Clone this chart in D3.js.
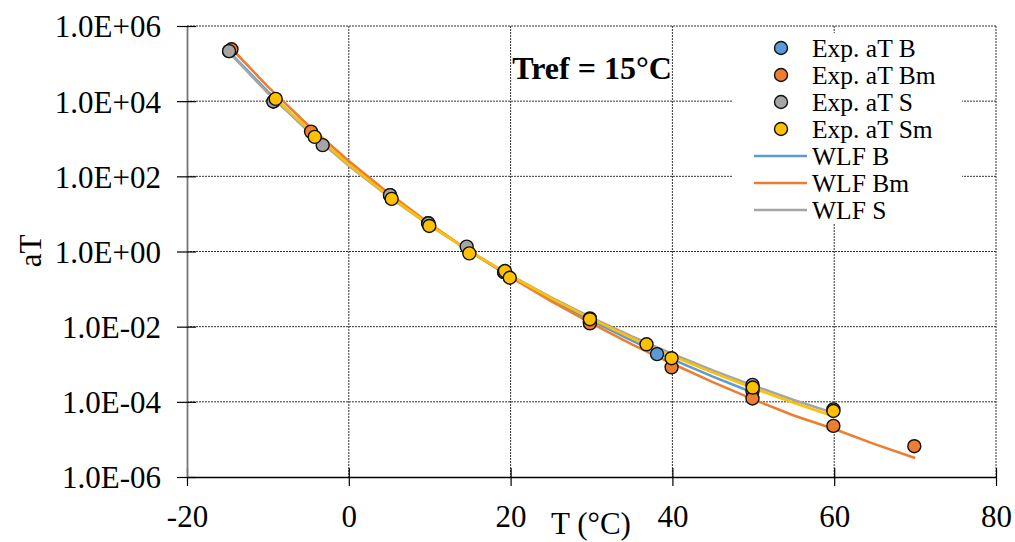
<!DOCTYPE html>
<html><head><meta charset="utf-8">
<script src="https://cdn.jsdelivr.net/npm/d3@7/dist/d3.min.js"></script>
<style>body{margin:0;background:#fff}svg{display:block}text{font-family:"Liberation Serif","Times New Roman",serif;fill:#000}</style>
</head><body><svg id="c" width="1015" height="542"></svg>
<script>
// ---- data ----
const xTicks = [-20, 0, 20, 40, 60, 80];
const xTickLabels = ["-20", "0", "20", "40", "60", "80"];
const yTicks = [1e6, 1e4, 1e2, 1e0, 1e-2, 1e-4, 1e-6];
const yTickLabels = ["1.0E+06","1.0E+04","1.0E+02","1.0E+00","1.0E-02","1.0E-04","1.0E-06"];
const legendNames = ["Exp. aT B","Exp. aT Bm","Exp. aT S","Exp. aT Sm","WLF B","WLF Bm","WLF S"];
const colors = {B:"#5B9BD5", Bm:"#ED7D31", S:"#A5A5A5", Sm:"#FFC000"};

// experimental points
const expB_T  = [-14.8, -9.3, 5.1, 9.8, 19.2, 29.8, 38.1, 49.9];
const expB_aT = [2.14e5, 9.8e3, 31.6, 5.62, 0.282, 0.0141, 1.86e-3, 1.9e-4];
const expBm_T  = [-14.5, -4.67, 29.8, 39.9, 49.9, 59.9, 69.9];
const expBm_aT = [2.4e5, 1.55e3, 0.0123, 8.3e-4, 1.23e-4, 2.29e-5, 6.6e-6];
const expS_T  = [-14.8, -9.33, -3.23, 5.09, 9.83, 14.57, 19.2, 29.8, 49.9, 59.9];
const expS_aT = [2.14e5, 9.8e3, 676, 31.6, 5.62, 1.35, 0.282, 0.0166, 2.82e-4, 6.3e-5];
const expSm_T  = [-9.04, -4.21, 5.3, 9.95, 14.9, 19.3, 19.9, 29.8, 36.8, 39.9, 49.93, 59.9];
const expSm_aT = [1.15e4, 1.12e3, 25.1, 4.79, 0.89, 0.302, 0.2, 0.0158, 3.39e-3, 1.45e-3, 2.4e-4, 5.7e-5];

// WLF curves
const wlfB_T  = [-14.8, -10, -5, 0, 5, 10, 15, 20, 25, 30, 35, 40, 45, 50];
const wlfB_aT = [2.09e5, 1.78e4, 1.73e3, 208, 30.1, 5.11, 1, 0.219, 0.0537, 0.0145, 4.27e-3, 1.35e-3, 4.68e-4, 1.74e-4];
const wlfBm_T  = [-14.5, -10, -5, 0, 5, 10, 15, 20, 25, 30, 35, 40, 45, 50, 55, 60, 65, 70];
const wlfBm_aT = [2.52e5, 2.43e4, 2.25e3, 255, 34.6, 5.48, 1, 0.2065, 0.0477, 0.01216, 3.39e-3, 1.03e-3, 3.34e-4, 1.16e-4, 4.31e-5, 1.9e-5, 7.5e-6, 3.2e-6];
const wlfS_T  = [-14.8, -10, -5, 0, 5, 10, 15, 20, 25, 30, 35, 40, 45, 50, 55, 60];
const wlfS_aT = [1.98e5, 1.63e4, 1.57e3, 190, 28.1, 4.92, 1, 0.232, 0.0602, 0.0173, 5.46e-3, 1.87e-3, 6.87e-4, 2.7e-4, 1.12e-4, 4.94e-5];
const wlfSm_T  = [-9, -5, 0, 5, 10, 15, 20, 25, 30, 35, 40, 45, 50, 55, 60];
const wlfSm_aT = [1.15e4, 1.76e3, 207, 29.7, 5.05, 1, 0.226, 0.0573, 0.0161, 4.96e-3, 1.66e-3, 5.98e-4, 2.31e-4, 9.44e-5, 4.07e-5];

// ---- layout ----
const L = 187, R = 996, T = 26, B = 477;
const svg = d3.select("#c");
const x = d3.scaleLinear().domain([-20, 80]).range([L, R]);
const y = d3.scaleLog().domain([1e-6, 1e6]).range([B, T]);

// grid
const grid = svg.append("g").attr("stroke", "#333").attr("stroke-width", 1).attr("stroke-dasharray", "2,1");
grid.selectAll(".gx").data(xTicks.filter(d => d > -20)).join("line")
  .attr("x1", d => x(d)).attr("x2", d => x(d)).attr("y1", T).attr("y2", B);
grid.selectAll(".gy").data(yTicks.filter(d => d > 1e-6)).join("line")
  .attr("x1", L).attr("x2", R).attr("y1", d => y(d)).attr("y2", d => y(d));

// axes
const xAxis = d3.axisBottom(x).tickValues(xTicks).tickFormat((d, i) => xTickLabels[i])
  .tickSizeInner(9).tickSizeOuter(0).tickPadding(19);
const gx = svg.append("g").attr("transform", `translate(0,${B})`).call(xAxis);
gx.select(".domain").attr("stroke", "#000").attr("stroke-width", 1.5);
gx.selectAll(".tick line").attr("stroke", "#000").attr("y1", -9).attr("stroke-width", 1.2);
gx.selectAll(".tick text").attr("font-size", 31).attr("font-family", "Liberation Serif").attr("fill", "#000");

const yAxis = d3.axisLeft(y).tickValues(yTicks).tickFormat((d, i) => yTickLabels[i])
  .tickSizeInner(10).tickSizeOuter(0).tickPadding(16);
const gy = svg.append("g").attr("transform", `translate(${L},0)`).call(yAxis);
gy.select(".domain").attr("stroke", "#777").attr("stroke-width", 1.8);
gy.selectAll(".tick line").attr("stroke", "#000").attr("x2", -10).attr("x1", 9).attr("stroke-width", 1.2);
gy.selectAll(".tick text").attr("font-size", 31).attr("font-family", "Liberation Serif").attr("fill", "#000").attr("dy", "0.35em");

// lines
const line = d3.line().x(d => x(d[0])).y(d => y(d[1]));
const lines = [
  [wlfB_T, wlfB_aT, colors.B],
  [wlfBm_T, wlfBm_aT, colors.Bm],
  [wlfS_T, wlfS_aT, colors.S],
  [wlfSm_T, wlfSm_aT, colors.Sm]
];
lines.forEach(([ts, vs, c]) => {
  svg.append("path").datum(d3.zip(ts, vs)).attr("d", line)
    .attr("fill", "none").attr("stroke", c).attr("stroke-width", 2.6);
});

// points
const pts = [
  [expB_T, expB_aT, colors.B],
  [expBm_T, expBm_aT, colors.Bm],
  [expS_T, expS_aT, colors.S],
  [expSm_T, expSm_aT, colors.Sm]
];
pts.forEach(([ts, vs, c]) => {
  svg.append("g").selectAll("circle").data(d3.zip(ts, vs)).join("circle")
    .attr("cx", d => x(d[0])).attr("cy", d => y(d[1])).attr("r", 6.5)
    .attr("fill", c).attr("stroke", "#111").attr("stroke-width", 1.4);
});

// legend
const lg = svg.append("g");
lg.append("rect").attr("x", 732).attr("y", 33).attr("width", 230).attr("height", 191).attr("fill", "#fff");
const legColors = [colors.B, colors.Bm, colors.S, colors.Sm, colors.B, colors.Bm, colors.S];
legendNames.forEach((name, i) => {
  const yy = 48 + i * 27;
  if (i < 4) {
    lg.append("circle").attr("cx", 781).attr("cy", yy).attr("r", 6.5)
      .attr("fill", legColors[i]).attr("stroke", "#111").attr("stroke-width", 1.4);
  } else {
    lg.append("line").attr("x1", 754).attr("x2", 807).attr("y1", yy).attr("y2", yy)
      .attr("stroke", legColors[i]).attr("stroke-width", 2.6);
  }
  lg.append("text").attr("x", 812).attr("y", yy).attr("dy", "0.35em")
    .attr("font-size", 25.5).text(name);
});

// annotations
svg.append("text").attr("x", 592).attr("y", 79).attr("text-anchor", "middle")
  .attr("font-size", 32).attr("font-weight", "bold").text("Tref = 15°C");
svg.append("text").attr("x", 591).attr("y", 534).attr("text-anchor", "middle")
  .attr("font-size", 31).text("T (°C)");
svg.append("text").attr("transform", "translate(41,251) rotate(-90)").attr("text-anchor", "middle")
  .attr("font-size", 31).text("aT");
</script></body></html>
